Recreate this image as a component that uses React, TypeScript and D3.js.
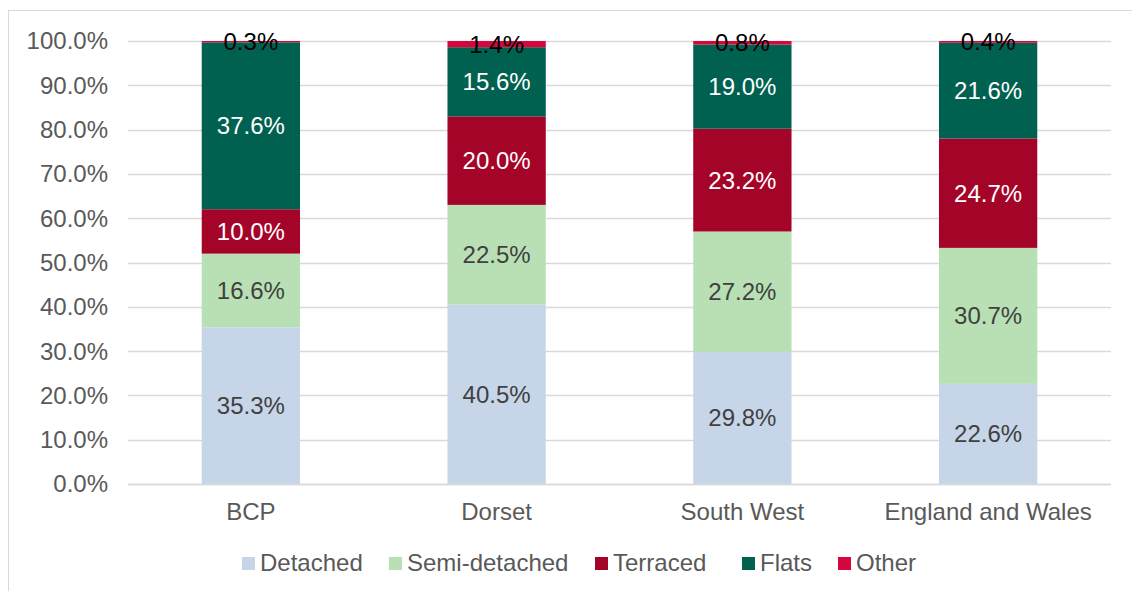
import { useEffect, useRef } from 'react';
import * as d3 from 'd3';

const categories = ['BCP', 'Dorset', 'South West', 'England and Wales'];
const seriesNames = ['Detached', 'Semi-detached', 'Terraced', 'Flats', 'Other'];
const detached = [35.3, 40.5, 29.8, 22.6];
const semiDetached = [16.6, 22.5, 27.2, 30.7];
const terraced = [10.0, 20.0, 23.2, 24.7];
const flats = [37.6, 15.6, 19.0, 21.6];
const other = [0.3, 1.4, 0.8, 0.4];
const yTicks = [0, 10, 20, 30, 40, 50, 60, 70, 80, 90, 100];

const colors = ['#C6D6E8', '#B8E0B4', '#A50429', '#006150', '#D7063C'];
const labelColors = ['#404040', '#404040', '#FFFFFF', '#FFFFFF', '#000000'];

export default function App() {
    const svgRef = useRef<SVGSVGElement>(null);

    useEffect(() => {
        const svg = d3.select(svgRef.current);
        svg.selectAll('*').remove();

        const width = 1132;
        const height = 591;
        const font = '"Liberation Sans", Arial, sans-serif';
        const fs = 24;

        // frame
        svg.append('rect')
            .attr('x', 8.5).attr('y', 10.5)
            .attr('width', 1140).attr('height', 600)
            .attr('fill', '#fff').attr('stroke', '#D9D9D9');

        const series = [detached, semiDetached, terraced, flats, other];
        const rows = categories.map((c, i) => {
            const row: any = { cat: c };
            seriesNames.forEach((s, j) => { row[s] = series[j][i]; });
            return row;
        });
        const stacked = d3.stack().keys(seriesNames).offset(d3.stackOffsetExpand)(rows);

        const x = d3.scaleBand().domain(categories).range([128, 1111]).paddingInner(0.6).paddingOuter(0.3);
        const y = d3.scaleLinear().domain([0, 1]).range([484, 41]);

        // gridlines
        svg.append('g')
            .selectAll('line')
            .data(yTicks)
            .join('line')
            .attr('x1', 128).attr('x2', 1111)
            .attr('y1', (d) => Math.round(y(d / 100)) + 0.5)
            .attr('y2', (d) => Math.round(y(d / 100)) + 0.5)
            .attr('stroke', '#D9D9D9')
            .attr('stroke-width', 1.3);

        // y labels
        svg.append('g')
            .selectAll('text')
            .data(yTicks)
            .join('text')
            .attr('x', 108)
            .attr('y', (d) => y(d / 100))
            .attr('dy', '0.35em')
            .attr('text-anchor', 'end')
            .attr('font-family', font)
            .attr('font-size', fs)
            .attr('fill', '#595959')
            .text((d) => d.toFixed(1) + '%');

        // bars
        stacked.forEach((layer, j) => {
            svg.append('g')
                .attr('fill', colors[j])
                .selectAll('rect')
                .data(layer)
                .join('rect')
                .attr('x', (d: any) => x(d.data.cat)!)
                .attr('y', (d) => y(d[1]))
                .attr('width', x.bandwidth())
                .attr('height', (d) => y(d[0]) - y(d[1]));
        });

        // bottom axis line
        svg.append('line')
            .attr('x1', 128).attr('x2', 1111)
            .attr('y1', 484.5).attr('y2', 484.5)
            .attr('stroke', '#D9D9D9').attr('stroke-width', 1.3);

        // data labels
        stacked.forEach((layer, j) => {
            svg.append('g')
                .selectAll('text')
                .data(layer)
                .join('text')
                .attr('x', (d: any) => x(d.data.cat)! + x.bandwidth() / 2)
                .attr('y', (d) => y((d[0] + d[1]) / 2))
                .attr('dy', '0.35em')
                .attr('text-anchor', 'middle')
                .attr('font-family', font)
                .attr('font-size', fs)
                .attr('fill', labelColors[j])
                .text((d: any) => d.data[seriesNames[j]].toFixed(1) + '%');
        });

        // category labels
        svg.append('g')
            .selectAll('text')
            .data(categories)
            .join('text')
            .attr('x', (d) => x(d)! + x.bandwidth() / 2)
            .attr('y', 520)
            .attr('text-anchor', 'middle')
            .attr('font-family', font)
            .attr('font-size', fs)
            .attr('fill', '#595959')
            .text((d) => d);

        // legend (Excel spacing)
        const legendX = [242, 389, 595, 742, 838];
        const legend = svg.append('g');
        seriesNames.forEach((s, j) => {
            legend.append('rect')
                .attr('x', legendX[j]).attr('y', 557)
                .attr('width', 13).attr('height', 13)
                .attr('fill', colors[j]);
            legend.append('text')
                .attr('x', legendX[j] + 18).attr('y', 571)
                .attr('font-family', font)
                .attr('font-size', fs)
                .attr('fill', '#595959')
                .text(s);
        });

        svg.attr('width', width).attr('height', height);
    }, []);

    return (
        <svg ref={svgRef} width={1132} height={591}
            style={{ position: 'absolute', left: 0, top: 0, display: 'block', background: '#fff' }} />
    );
}
